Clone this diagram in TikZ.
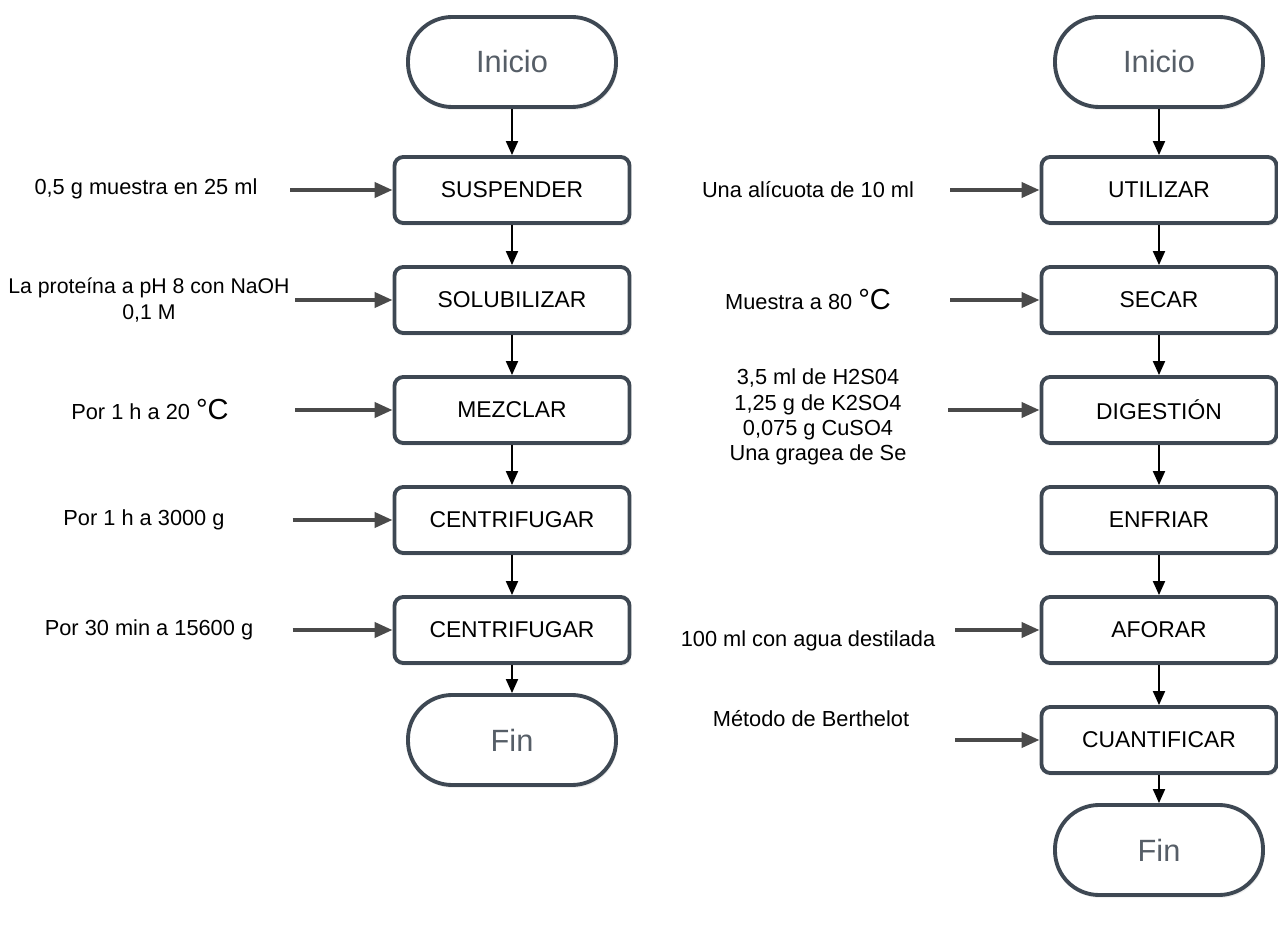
\documentclass[tikz,border=0pt]{standalone}
\usepackage{fontspec}
\setmainfont{Liberation Sans}
\usetikzlibrary{arrows.meta,shadows}
\definecolor{boxline}{HTML}{3E4853}
\definecolor{termtext}{HTML}{565E67}
\definecolor{inline}{HTML}{4A4A4A}
\newcommand{\grados}{{\fontsize{16.5}{16}\selectfont °C}}
\begin{document}
\begin{tikzpicture}[every node/.style={font=\fontsize{12.4}{14.3}\selectfont},
  paso/.style={draw=boxline, line width=2.2pt, rounded corners=5pt, fill=white, minimum width=4.7cm, minimum height=1.32cm, align=center,
    font=\fontsize{13}{15}\selectfont, drop shadow={opacity=0.12, shadow xshift=0.03cm, shadow yshift=-0.06cm}},
  terminal/.style={draw=boxline, line width=2.2pt, rounded corners=0.88cm, fill=white, minimum width=4.16cm, minimum height=1.8cm,
    text=termtext, font=\fontsize{17.5}{20}\selectfont, drop shadow={opacity=0.12, shadow xshift=0.03cm, shadow yshift=-0.06cm}},
  dato/.style={align=center},
  flujo/.style={-{Triangle[length=0.28cm,width=0.24cm]}, line width=1.1pt, black},
  entrada/.style={-{Triangle[length=0.36cm,width=0.3cm]}, line width=2.2pt, inline}]
\useasboundingbox (0,0) rectangle (25.56,-18.54);
% columna izquierda
\node[terminal] (ini1) at (10.24,-1.24) {Inicio};
\node[paso] (sus) at (10.24,-3.8) {SUSPENDER};
\node[paso] (sol) at (10.24,-6.0) {SOLUBILIZAR};
\node[paso] (mez) at (10.24,-8.2) {MEZCLAR};
\node[paso] (cen1) at (10.24,-10.4) {CENTRIFUGAR};
\node[paso] (cen2) at (10.24,-12.6) {CENTRIFUGAR};
\node[terminal] (fin1) at (10.24,-14.8) {Fin};
\node[dato] (d1) at (2.92,-3.78) {0,5 g muestra en 25 ml};
\node[dato, font=\fontsize{12.1}{14.3}\selectfont] (d2) at (2.98,-6.0) {La proteína a pH 8 con NaOH\\0,1 M};
\node[dato] (d3) at (3.0,-8.2) {Por 1 h a 20 \grados};
\node[dato] (d4) at (2.88,-10.4) {Por 1 h a 3000 g};
\node[dato] (d5) at (2.98,-12.6) {Por 30 min a 15600 g};
\coordinate (e1) at (5.8,-3.8);
\coordinate (e2) at (5.9,-6.0);
\coordinate (e3) at (5.9,-8.2);
\coordinate (e4) at (5.85,-10.4);
\coordinate (e5) at (5.85,-12.6);
\draw[flujo] (ini1) -- (sus);
\draw[flujo] (sus) -- (sol);
\draw[flujo] (sol) -- (mez);
\draw[flujo] (mez) -- (cen1);
\draw[flujo] (cen1) -- (cen2);
\draw[flujo] (cen2) -- (fin1);
\draw[entrada] (e1) -- (sus.west);
\draw[entrada] (e2) -- (sol.west);
\draw[entrada] (e3) -- (mez.west);
\draw[entrada] (e4) -- (cen1.west);
\draw[entrada] (e5) -- (cen2.west);
% columna derecha
\node[terminal] (ini2) at (23.18,-1.24) {Inicio};
\node[paso] (uti) at (23.18,-3.8) {UTILIZAR};
\node[paso] (sec) at (23.18,-6.0) {SECAR};
\node[paso] (dig) at (23.18,-8.2) {DIGESTIÓN};
\node[paso] (enf) at (23.18,-10.4) {ENFRIAR};
\node[paso] (afo) at (23.18,-12.6) {AFORAR};
\node[paso] (cua) at (23.18,-14.8) {CUANTIFICAR};
\node[terminal] (fin2) at (23.18,-17.0) {Fin};
\node[dato] (r1) at (16.16,-3.8) {Una alícuota de 10 ml};
\node[dato] (r2) at (16.16,-6.0) {Muestra a 80 \grados};
\node[dato] (r3) at (16.36,-8.34) {3,5 ml de H2S04\\1,25 g de K2SO4\\0,075 g CuSO4\\Una gragea de Se};
\node[dato] (r4) at (16.16,-12.82) {100 ml con agua destilada};
\node[dato] (r5) at (16.22,-14.38) {Método de Berthelot};
\coordinate (f1) at (19.0,-3.8);
\coordinate (f2) at (19.0,-6.0);
\coordinate (f3) at (18.96,-8.2);
\coordinate (f4) at (19.1,-12.6);
\coordinate (f5) at (19.1,-14.8);
\draw[flujo] (ini2) -- (uti);
\draw[flujo] (uti) -- (sec);
\draw[flujo] (sec) -- (dig);
\draw[flujo] (dig) -- (enf);
\draw[flujo] (enf) -- (afo);
\draw[flujo] (afo) -- (cua);
\draw[flujo] (cua) -- (fin2);
\draw[entrada] (f1) -- (uti.west);
\draw[entrada] (f2) -- (sec.west);
\draw[entrada] (f3) -- (dig.west);
\draw[entrada] (f4) -- (afo.west);
\draw[entrada] (f5) -- (cua.west);
\end{tikzpicture}
\end{document}
